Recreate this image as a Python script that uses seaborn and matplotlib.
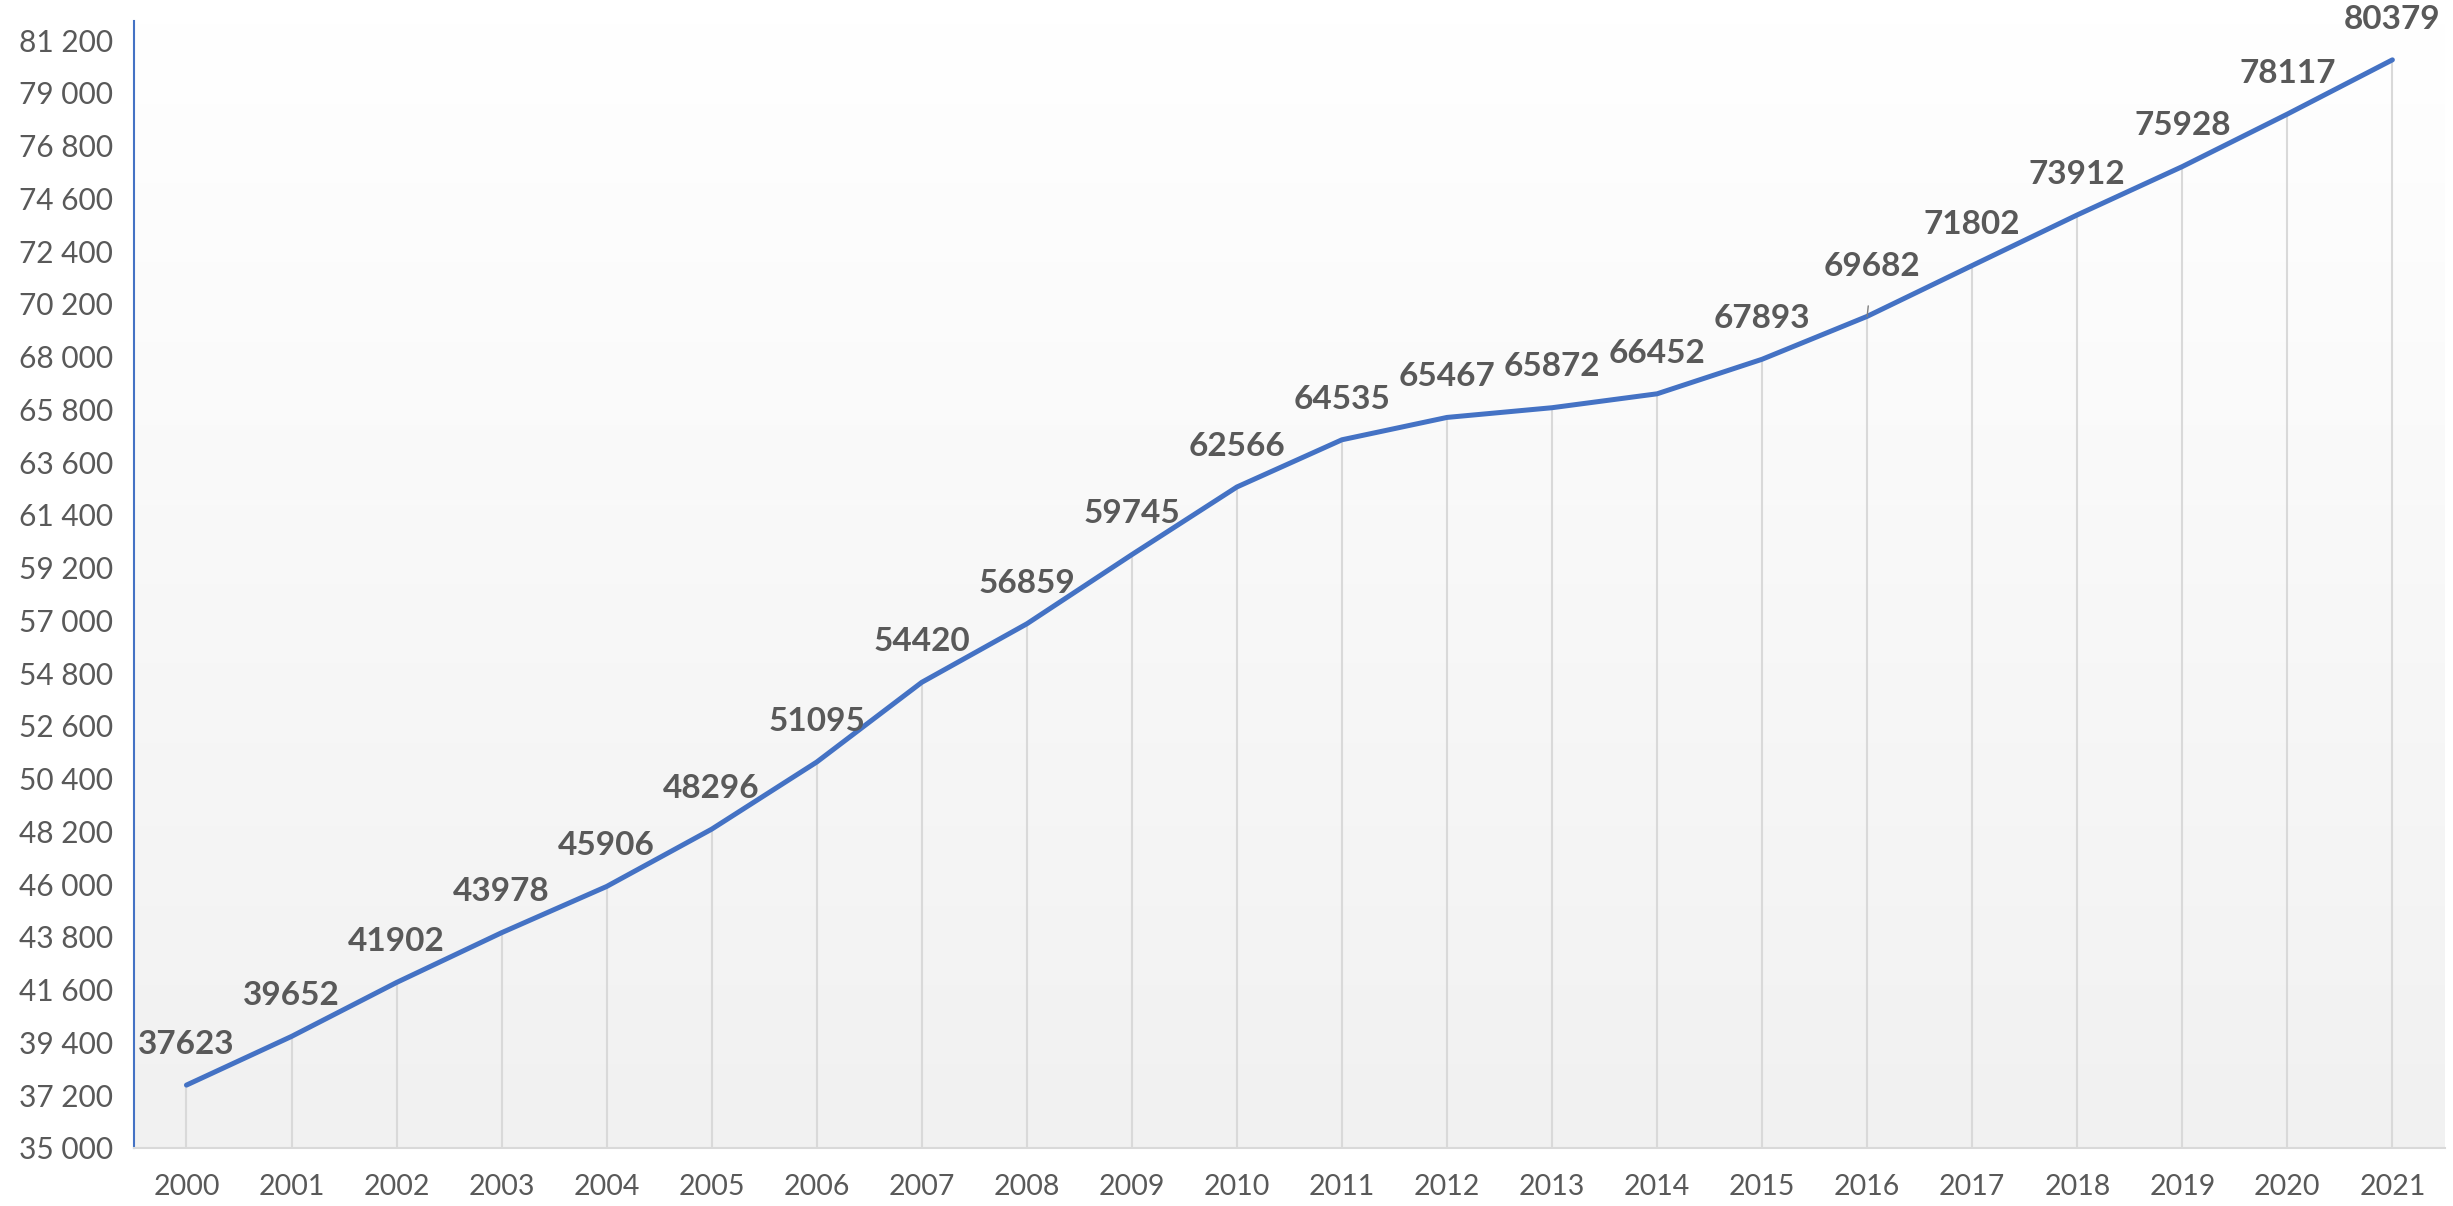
"""Line chart of yearly values with drop lines and data labels."""
import matplotlib
matplotlib.use('Agg')
import matplotlib.pyplot as plt
import numpy as np
import pandas as pd
import seaborn as sns

years = list(range(2000, 2022))
values = [37623, 39652, 41902, 43978, 45906, 48296, 51095, 54420, 56859,
          59745, 62566, 64535, 65467, 65872, 66452, 67893, 69682, 71802,
          73912, 75928, 78117, 80379]
y_ticks = list(range(35000, 81201, 2200))

df = pd.DataFrame({'year': years, 'value': values})

sns.set_style('white')
plt.rcParams['font.family'] = ['Lato', 'DejaVu Sans']

fig = plt.figure(figsize=(24.53, 12.06), dpi=100)
ax = fig.add_axes([0.0546, 0.0481, 0.9421, 0.9345])

# background gradient: white at top, light gray at bottom
grad = np.linspace(0, 1, 256).reshape(-1, 1)
ax.imshow(grad, aspect='auto', extent=[0, 1, 0, 1], transform=ax.transAxes,
          cmap=matplotlib.colors.LinearSegmentedColormap.from_list(
              'bg', ['#f1f1f1', '#ffffff']),
          origin='lower', zorder=0)

# drop lines
ax.vlines(df['year'], 35000, df['value'], color='#d9d9d9', lw=1.5, zorder=1)

sns.lineplot(data=df, x='year', y='value', color='#4472C4', lw=3.6,
             ax=ax, zorder=3)

for x, v in zip(years, values):
    if x == 2016:
        ax.annotate(str(v), xy=(x, v), xytext=(x + 0.05, v + 2100),
                    ha='center', va='center', fontsize=24, fontweight='bold',
                    color='#595959', zorder=4,
                    arrowprops=dict(arrowstyle='-', color='#7f7f7f', lw=1,
                                    shrinkA=16, shrinkB=0))
    else:
        ax.text(x, v + 1700, str(v), ha='center', va='center', fontsize=24,
                fontweight='bold', color='#595959', zorder=4)

ax.set_xlim(1999.5, 2021.5)
ax.set_ylim(35000, 82000)
ax.set_xticks(years)
ax.set_xticklabels([str(y) for y in years])
ax.set_yticks(y_ticks)
ax.set_yticklabels([f'{t:,}'.replace(',', ' ') for t in y_ticks])
ax.tick_params(axis='x', length=0, pad=19, labelsize=20.5, labelcolor='#595959')
ax.tick_params(axis='y', length=0, pad=15, labelsize=21.5, labelcolor='#595959')
ax.set_xlabel('')
ax.set_ylabel('')

for side in ['top', 'right']:
    ax.spines[side].set_visible(False)
ax.spines['left'].set_color('#4472C4')
ax.spines['left'].set_linewidth(1.5)
ax.spines['bottom'].set_color('#d9d9d9')
ax.spines['bottom'].set_linewidth(1.5)

fig.savefig('out.png', dpi=100, facecolor='white')
